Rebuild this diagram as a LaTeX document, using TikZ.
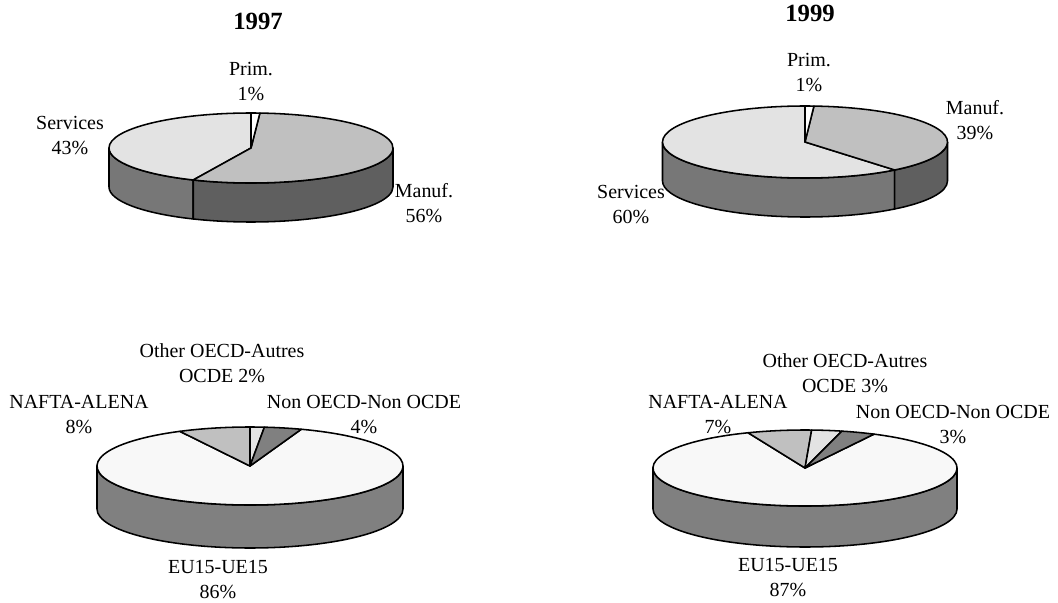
\documentclass[tikz,border=0pt]{standalone}
\usepackage{fontspec}
\setmainfont{Liberation Serif}
\tikzset{>=latex}
\definecolor{topA}{HTML}{E3E3E3}
\definecolor{topB}{HTML}{C0C0C0}
\definecolor{topC}{HTML}{F8F8F8}
\definecolor{sideA}{HTML}{777777}
\definecolor{sideB}{HTML}{5F5F5F}
\definecolor{darkslice}{HTML}{808080}
\tikzset{
  pielabel/.style={align=center,inner sep=0pt,font=\fontsize{14.2}{17.8}\selectfont},
  pietitle/.style={inner sep=0pt,font=\fontsize{17.6}{20}\selectfont\bfseries},
  pieline/.style={draw=black,line width=1.1pt,line join=round},
}
% top face of a slice: start, end, x radius, y radius, colour
\newcommand{\slicetop}[5]{%
  \filldraw[pieline,fill=#5] (0,0) -- (#1:#3 and #4)
    arc[start angle=#1,end angle=#2,x radius=#3,y radius=#4] -- cycle;}
% front wall of a slice: start, end, x radius, y radius, depth, colour
\newcommand{\sliceside}[6]{%
  \filldraw[pieline,fill=#6] (#1:#3 and #4)
    arc[start angle=#1,end angle=#2,x radius=#3,y radius=#4] -- ++(0,-#5)
    arc[start angle=#2,end angle=#1,x radius=#3,y radius=#4] -- cycle;}

\begin{document}
\begin{tikzpicture}[x=0.025cm,y=-0.025cm]
  \useasboundingbox (0,0) rectangle (1058,603);

  % 1997, by sector
  \begin{scope}[shift={(251,148)},yscale=-1]
    \sliceside{180}{246}{142}{35}{39}{sideA}
    \sliceside{246}{360}{142}{35}{39}{sideB}
    \slicetop{90}{246}{142}{35}{topA}
    \slicetop{-114}{86.4}{142}{35}{topB}
    \slicetop{86.4}{90}{142}{35}{white}
  \end{scope}
  \node[pietitle] (title97) at (258,21) {1997};
  \node[pielabel] (prim97) at (251,82) {Prim.\\1\%};
  \node[pielabel] (serv97) at (70,136) {Services\\43\%};
  \node[pielabel] (manuf97) at (424,203) {Manuf.\\56\%};

  % 1999, by sector
  \begin{scope}[shift={(805,142)},yscale=-1]
    \sliceside{180}{309}{142.5}{36}{39}{sideA}
    \sliceside{309}{360}{142.5}{36}{39}{sideB}
    \slicetop{90}{309}{142.5}{36}{topA}
    \slicetop{-51}{86.4}{142.5}{36}{topB}
    \slicetop{86.4}{90}{142.5}{36}{white}
  \end{scope}
  \node[pietitle] (title99) at (810,13) {1999};
  \node[pielabel] (prim99) at (809,73) {Prim.\\1\%};
  \node[pielabel] (manuf99) at (975,120) {Manuf.\\39\%};
  \node[pielabel] (serv99) at (631,205) {Services\\60\%};

  % 1997, by region
  \begin{scope}[shift={(250,466)},yscale=-1]
    \sliceside{180}{360}{153}{39}{43}{darkslice}
    \slicetop{117.3}{430.4}{153}{39}{topC}
    \slicetop{90}{117.3}{153}{39}{topB}
    \slicetop{84.6}{90}{153}{39}{topA}
    \slicetop{70.4}{84.6}{153}{39}{darkslice}
  \end{scope}
  \node[pielabel] (other97) at (222,363) {Other OECD-Autres\\OCDE 2\%};
  \node[pielabel] (nafta97) at (79,415) {NAFTA-ALENA\\8\%};
  \node[pielabel] (nonoecd97) at (364,415) {Non OECD-Non OCDE\\4\%};
  \node[pielabel] (eu97) at (218,580) {EU15-UE15\\86\%};

  % 1999, by region
  \begin{scope}[shift={(805,468)},yscale=-1]
    \sliceside{180}{360}{152}{38}{41}{darkslice}
    \slicetop{112}{423}{152}{38}{topC}
    \slicetop{87.5}{112}{152}{38}{topB}
    \slicetop{76}{87.5}{152}{38}{topA}
    \slicetop{63}{76}{152}{38}{darkslice}
  \end{scope}
  \node[pielabel] (other99) at (845,373) {Other OECD-Autres\\OCDE 3\%};
  \node[pielabel] (nafta99) at (718,415) {NAFTA-ALENA\\7\%};
  \node[pielabel] (nonoecd99) at (953,425) {Non OECD-Non OCDE\\3\%};
  \node[pielabel] (eu99) at (788,578) {EU15-UE15\\87\%};
\end{tikzpicture}
\end{document}
